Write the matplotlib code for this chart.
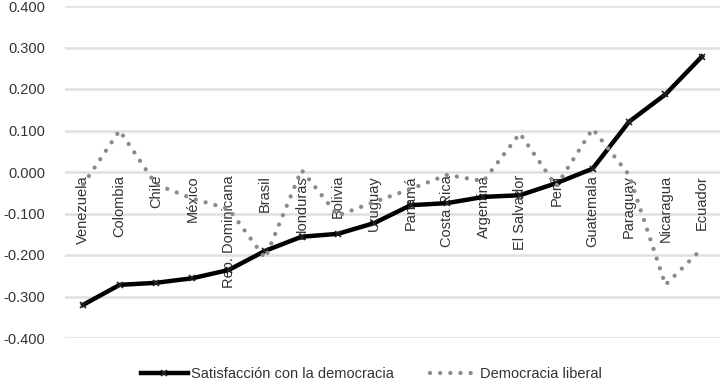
import matplotlib.pyplot as plt
import matplotlib.transforms as mtransforms

plt.rcParams['font.family'] = ['Liberation Sans', 'DejaVu Sans']
plt.rcParams['axes.unicode_minus'] = False

paises = ["Venezuela", "Colombia", "Chile", "México", "Rep. Dominicana", "Brasil",
          "Honduras", "Bolivia", "Uruguay", "Panamá", "Costa Rica", "Argentina",
          "El Salvador", "Perú", "Guatemala", "Paraguay", "Nicaragua", "Ecuador"]
satisfaccion = [-0.320, -0.272, -0.267, -0.256, -0.236, -0.190, -0.156, -0.149, -0.123,
                -0.080, -0.075, -0.060, -0.056, -0.027, 0.008, 0.121, 0.187, 0.278]
dem_liberal = [-0.030, 0.100, -0.030, -0.064, -0.089, -0.208, 0.005, -0.105, -0.072,
               -0.041, -0.007, -0.022, 0.093, -0.034, 0.104, -0.007, -0.272, -0.185]
yticks = [-0.4, -0.3, -0.2, -0.1, 0.0, 0.1, 0.2, 0.3, 0.4]

fig = plt.figure(figsize=(7.21, 3.81), dpi=100)
ax = fig.add_axes([65 / 721, 1 - 338 / 381, 655 / 721, 332 / 381])

x = list(range(len(paises)))
ax.plot(x, satisfaccion, color='black', lw=3.2, marker='x', ms=5, mew=1.2,
        mec='#222222', solid_joinstyle='round', zorder=3,
        label="Satisfacción con la democracia")
ax.plot(x, dem_liberal, color='#8f8a86', lw=3.1, linestyle=(0, (0.01, 2.35)),
        dash_capstyle='round', zorder=4, label="Democracia liberal")

ax.set_xlim(-0.5, len(paises) - 0.5)
ax.set_ylim(-0.4, 0.4)
ax.set_yticks(yticks)
ax.set_yticklabels([f"{v:.3f}" for v in yticks])
ax.tick_params(axis='y', length=0, pad=14, labelsize=10.5, labelcolor='#333333')
ax.set_xticks([])
ax.grid(axis='y', color='#e0e0e0', lw=1.8)
ax.set_axisbelow(True)
for s in ax.spines.values():
    s.set_visible(False)
ax.set_clip_on(False)

trans = mtransforms.blended_transform_factory(ax.transData, ax.transData)
off = mtransforms.offset_copy(trans, fig=fig, x=0, y=-3, units='dots')
for i, p in enumerate(paises):
    ax.text(i, 0, p, rotation=90, ha='center', va='top', fontsize=10.5,
            color='#333333', transform=off, zorder=2)

fig.legend(loc='lower center', ncol=2, frameon=False, fontsize=10.5,
           bbox_to_anchor=(0.515, -0.035), handlelength=3.2, handletextpad=0.2,
           columnspacing=2.5, labelcolor='#333333')

fig.savefig("out.png", dpi=100)
